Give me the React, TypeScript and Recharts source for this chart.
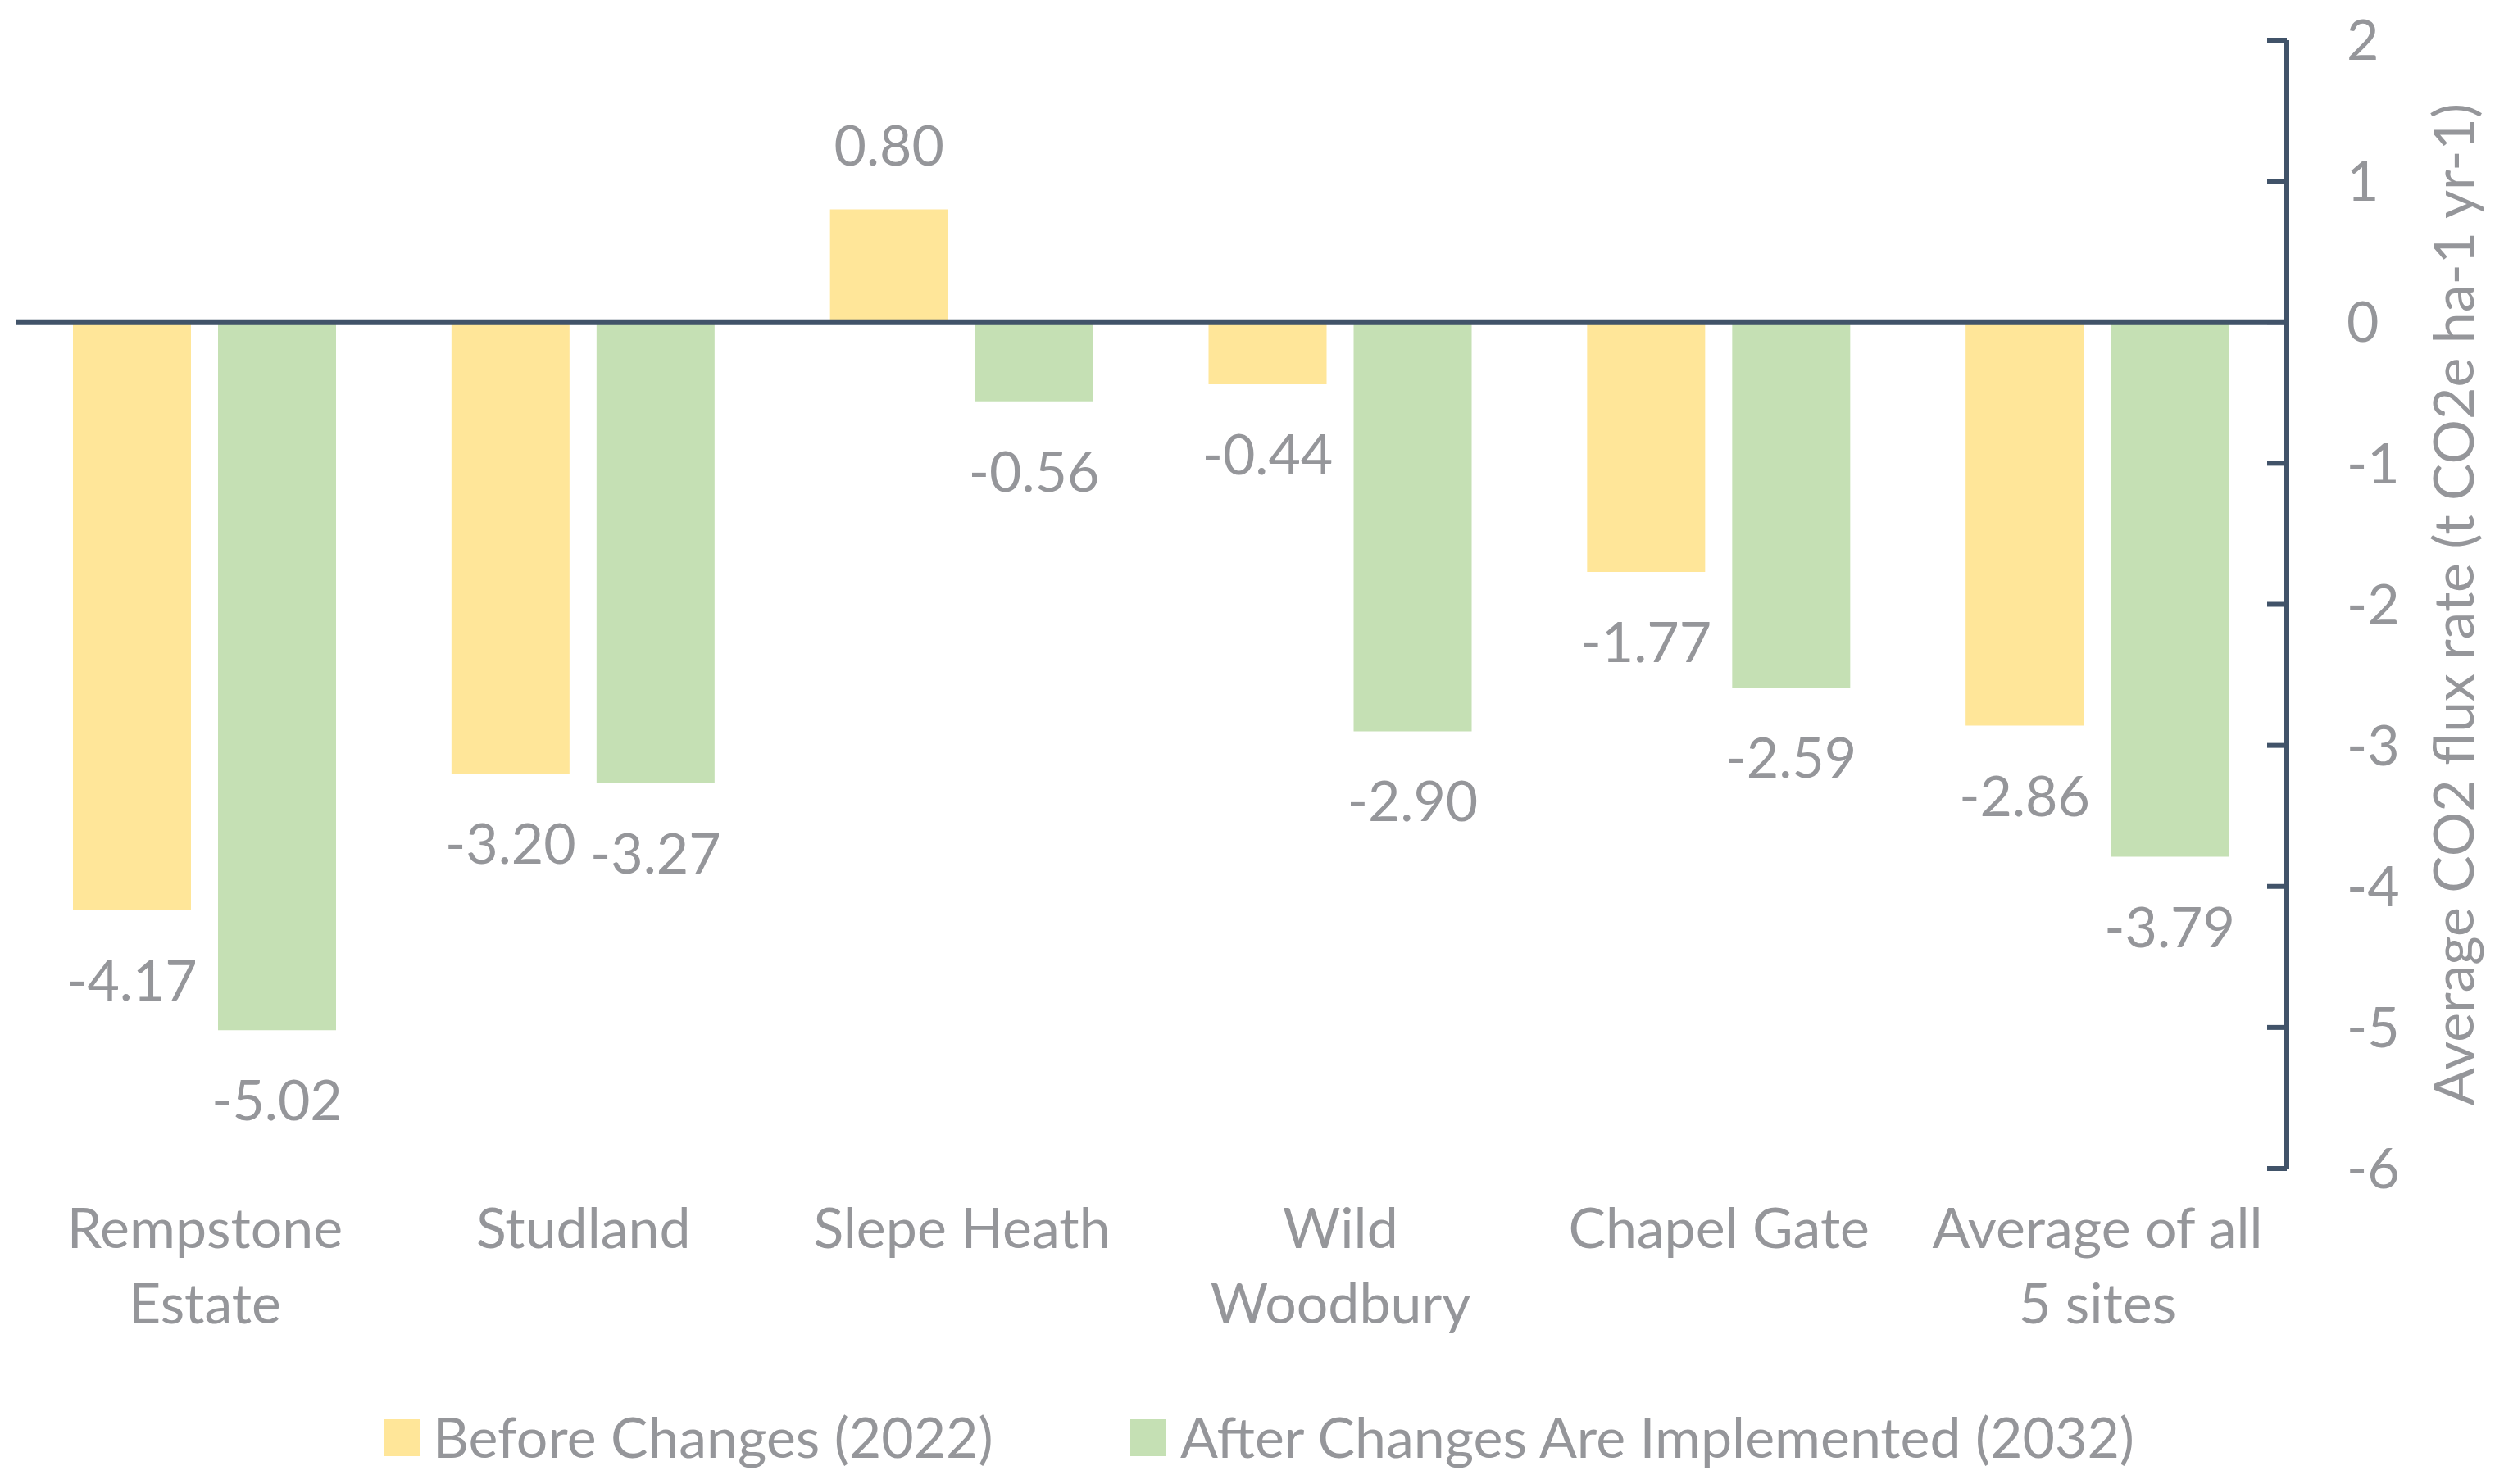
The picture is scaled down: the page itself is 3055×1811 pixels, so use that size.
import React from 'react';
import { BarChart, Bar, XAxis, YAxis, ReferenceLine, LabelList, Legend } from 'recharts';

const categories = ['Rempstone Estate', 'Studland', 'Slepe Heath', 'Wild Woodbury', 'Chapel Gate', 'Average of all 5 sites'];
const categoryLines = [['Rempstone', 'Estate'], ['Studland'], ['Slepe Heath'], ['Wild', 'Woodbury'], ['Chapel Gate'], ['Average of all', '5 sites']];
const beforeValues = [-4.17, -3.2, 0.8, -0.44, -1.77, -2.86];
const afterValues = [-5.02, -3.27, -0.56, -2.9, -2.59, -3.79];
const yTicks = [2, 1, 0, -1, -2, -3, -4, -5, -6];
const seriesNames = ['Before Changes (2022)', 'After Changes Are Implemented (2032)'];
const yAxisTitle = 'Average CO2 flux rate (t CO2e ha-1 yr-1)';

const COLORS = ['#FFE699', '#C5E0B4'];
const AXIS = '#415369';
const TEXT = '#95969A';
const FONT = 'Lato, "Noto Sans", sans-serif';
const FS = 68;

const data = categories.map((c, i) => ({ category: c, before: beforeValues[i], after: afterValues[i] }));

const renderValueLabel = (props: any) => {
  const vb = props.viewBox || props;
  const x = Number(vb.x ?? props.x);
  const y = Number(vb.y ?? props.y);
  const w = Number(vb.width ?? props.width);
  const h = Number(vb.height ?? props.height);
  const v = Number(props.value);
  const top = Math.min(y, y + h);
  const bottom = Math.max(y, y + h);
  const cx = x + w / 2;
  const ty = v < 0 ? bottom + 110 : top - 54;
  return (
    <text x={cx} y={ty} textAnchor="middle" fill={TEXT} fontSize={FS} fontFamily={FONT}>
      {v.toFixed(2)}
    </text>
  );
};

const CategoryTick = (props: any) => {
  const { x, y, index } = props;
  const lines = categoryLines[index] || [String(props.payload?.value ?? '')];
  return (
    <g>
      {lines.map((ln: string, i: number) => (
        <text key={i} x={x} y={y + 97 + i * 92} textAnchor="middle" fill={TEXT} fontSize={FS} fontFamily={FONT}>
          {ln}
        </text>
      ))}
    </g>
  );
};

const YTitle = (props: any) => {
  const vb = props.viewBox || {};
  const cx = vb.x + 228;
  const cy = vb.y + vb.height / 2;
  return (
    <text x={cx} y={cy} transform={`rotate(-90 ${cx} ${cy})`} textAnchor="middle" fill={TEXT} fontSize={FS} fontFamily={FONT}>
      {yAxisTitle}
    </text>
  );
};

const LegendContent = () => {
  const lefts = [[460, 520], [1371, 1432]];
  return (
    <div style={{ position: 'relative', width: '100%', height: 90 }}>
      {seriesNames.map((n, i) => (
        <React.Fragment key={n}>
          <div style={{ position: 'absolute', left: lefts[i][0], top: 24, width: 44, height: 45, background: COLORS[i] }} />
          <div style={{ position: 'absolute', left: lefts[i][1], top: 0, height: 90, lineHeight: '90px', fontSize: FS, fontFamily: FONT, color: TEXT, whiteSpace: 'nowrap' }}>
            {n}
          </div>
        </React.Fragment>
      ))}
    </div>
  );
};

export default function App() {
  return (
    <div style={{ width: 3039, height: 1815, marginTop: -20, background: '#fff' }}>
      <BarChart
        width={3039}
        height={1815}
        data={data}
        margin={{ top: 61, right: 17, bottom: 177, left: 11 }}
        barCategoryGap={70}
        barGap={33}
      >
        <XAxis
          dataKey="category"
          axisLine={false}
          tickLine={false}
          tickSize={0}
          tickMargin={0}
          interval={0}
          height={200}
          tick={<CategoryTick />}
        />
        <YAxis
          orientation="right"
          domain={[-6, 2]}
          ticks={yTicks}
          interval={0}
          width={240}
          allowDataOverflow
          axisLine={{ stroke: AXIS, strokeWidth: 6 }}
          tickLine={{ stroke: AXIS, strokeWidth: 6 }}
          tickSize={-24}
          tickMargin={97}
          tick={{ fill: TEXT, fontSize: FS, fontFamily: FONT }}
          label={<YTitle />}
        />
        <Legend
          verticalAlign="middle"
          align="center"
          layout="horizontal"
          wrapperStyle={{ top: 1720, left: 0, width: 3039, height: 90 }}
          content={<LegendContent />}
        />
        <Bar dataKey="before" name={seriesNames[0]} fill={COLORS[0]} isAnimationActive={false}>
          <LabelList dataKey="before" content={renderValueLabel} />
        </Bar>
        <Bar dataKey="after" name={seriesNames[1]} fill={COLORS[1]} isAnimationActive={false}>
          <LabelList dataKey="after" content={renderValueLabel} />
        </Bar>
        <ReferenceLine y={0} stroke={AXIS} strokeWidth={7} ifOverflow="visible" />
      </BarChart>
    </div>
  );
}
